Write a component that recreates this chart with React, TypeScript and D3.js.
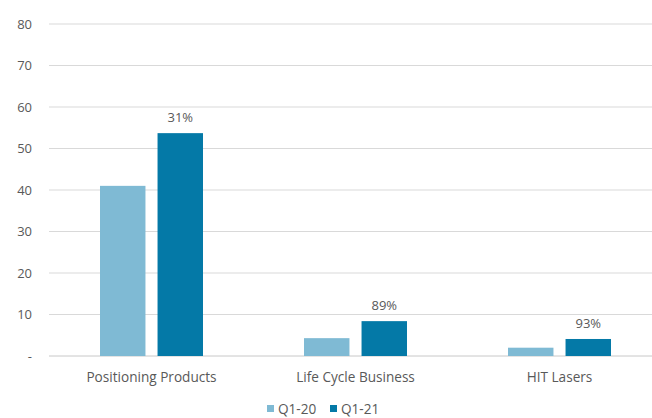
import React from "react";
import * as d3 from "d3";

const categories = ["Positioning Products", "Life Cycle Business", "HIT Lasers"];
const seriesNames = ["Q1-20", "Q1-21"];
const q120 = [41.0, 4.3, 2.0];
const q121 = [53.7, 8.4, 4.1];
const growthLabels = ["31%", "89%", "93%"];
const yTicks = [0, 10, 20, 30, 40, 50, 60, 70, 80];
const colors = ["#7fbad4", "#0479a7"];

const W = 652;
const H = 418;

export default function App() {
  const x0 = d3.scaleBand<string>().domain(categories).range([49.5, 661.5]);
  const groupW = 103;
  const x1 = d3
    .scaleBand<string>()
    .domain(seriesNames)
    .range([(x0.bandwidth() - groupW) / 2, (x0.bandwidth() + groupW) / 2])
    .paddingInner(0.21);
  const y = d3.scaleLinear().domain([0, 80]).range([356, 24]);
  const values = [q120, q121];
  const font = "'Open Sans', 'Noto Sans', sans-serif";
  const textColor = "#595959";

  return (
    <svg
      width={W}
      height={H}
      style={{ position: "absolute", left: 0, top: 0, background: "#fff" }}
      fontFamily={font}
    >
      {yTicks.map((t) => (
        <g key={t}>
          <line
            x1={49}
            x2={W}
            y1={y(t)}
            y2={y(t)}
            stroke={t === 0 ? "#c8c8c8" : "#d9d9d9"}
            strokeWidth={1}
          />
          <text
            x={32}
            y={y(t)}
            dy="0.35em"
            textAnchor="end"
            fontSize={13}
            fill={textColor}
          >
            {t === 0 ? "-" : d3.format("d")(t)}
          </text>
        </g>
      ))}
      {categories.map((c, i) => (
        <g key={c} transform={`translate(${x0(c)},0)`}>
          {seriesNames.map((s, j) => (
            <rect
              key={s}
              x={x1(s)}
              y={y(values[j][i])}
              width={x1.bandwidth()}
              height={y(0) - y(values[j][i])}
              fill={colors[j]}
            />
          ))}
          <text
            x={(x1("Q1-21") as number) + x1.bandwidth() / 2}
            y={y(q121[i]) - 11}
            textAnchor="middle"
            fontSize={13}
            fill={textColor}
          >
            {growthLabels[i]}
          </text>
          <text
            x={x0.bandwidth() / 2}
            y={377}
            dy="0.35em"
            textAnchor="middle"
            fontSize={13.6}
            fill={textColor}
          >
            {c}
          </text>
        </g>
      ))}
      <g>
        {seriesNames.map((s, j) => {
          const lx = 267 + j * 63;
          return (
            <g key={s}>
              <rect x={lx} y={405} width={7} height={7} fill={colors[j]} />
              <text
                x={lx + 11}
                y={409}
                dy="0.35em"
                fontSize={13.6}
                fill={textColor}
              >
                {s}
              </text>
            </g>
          );
        })}
      </g>
    </svg>
  );
}
